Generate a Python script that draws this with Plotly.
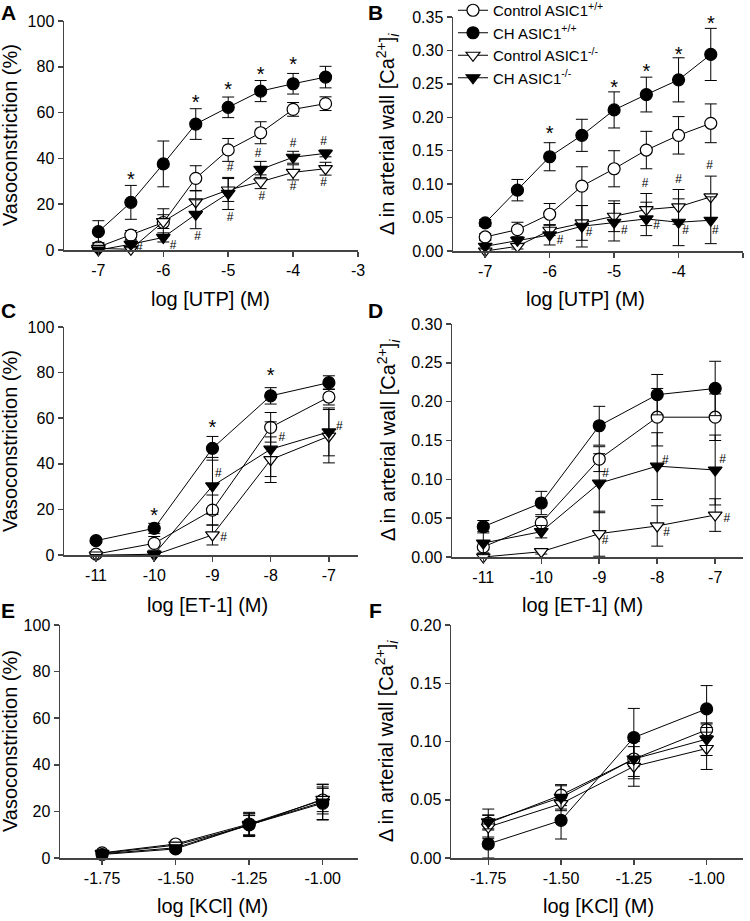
import plotly.graph_objects as go

W, H = 750, 921
FONT = "Liberation Sans, Arial, sans-serif"
AXC = "#444444"

# ---------------- data ----------------
SERIES = ["Control ASIC1<sup>+/+</sup>", "CH ASIC1<sup>+/+</sup>",
          "Control ASIC1<sup>-/-</sup>", "CH ASIC1<sup>-/-</sup>"]

# Panel A: vasoconstriction vs log[UTP]
utp_x = [-7, -6.5, -6, -5.5, -5, -4.5, -4, -3.5]
A_ctrl_wt = [1.3, 6.5, 12.0, 31.3, 43.7, 51.2, 61.4, 63.9]
A_ctrl_wt_err = [1.6, 2.0, 6.0, 5.5, 5.0, 4.8, 3.0, 3.0]
A_ch_wt = [8.0, 20.8, 37.6, 55.0, 62.3, 69.4, 72.6, 75.5]
A_ch_wt_err = [4.8, 7.4, 10.0, 6.7, 4.5, 4.6, 4.5, 4.7]
A_ctrl_ko = [0.7, 0.3, 12.4, 21.0, 26.2, 29.8, 33.9, 35.5]
A_ctrl_ko_err = [1.0, 1.0, 3.0, 5.0, 5.0, 3.0, 3.3, 2.8]
A_ch_ko = [0.0, 2.5, 5.5, 15.6, 24.7, 35.2, 40.5, 42.2]
A_ch_ko_err = [1.0, 1.5, 2.0, 6.3, 7.0, 3.5, 2.6, 1.5]
A_star_x = [-6.5, -5.5, -5, -4.5, -4]
A_star_y = [32.0, 65.5, 71.0, 77.9, 82.0]
A_hash_x = [-6.37, -5.85, -5.47, -4.97, -4.97, -4.54, -4.48, -4.0, -4.0, -3.53, -3.53]
A_hash_y = [0.7, 1.7, 5.5, 13.8, 35.7, 41.9, 23.3, 46.3, 27.4, 47.3, 29.4]

# Panel B: Ca2+ vs log[UTP]
B_ctrl_wt = [0.021, 0.032, 0.055, 0.097, 0.123, 0.151, 0.173, 0.191]
B_ctrl_wt_err = [0.005, 0.011, 0.016, 0.029, 0.027, 0.028, 0.028, 0.029]
B_ch_wt = [0.042, 0.091, 0.141, 0.173, 0.211, 0.234, 0.256, 0.294]
B_ch_wt_err = [0.005, 0.016, 0.021, 0.024, 0.027, 0.026, 0.033, 0.039]
B_ctrl_ko = [0.0, 0.007, 0.031, 0.042, 0.052, 0.062, 0.066, 0.081]
B_ctrl_ko_err = [0.003, 0.004, 0.008, 0.026, 0.023, 0.024, 0.026, 0.031]
B_ch_ko = [0.007, 0.016, 0.024, 0.037, 0.043, 0.048, 0.043, 0.046]
B_ch_ko_err = [0.004, 0.005, 0.015, 0.031, 0.028, 0.025, 0.035, 0.035]
B_star_x = [-6, -5, -4.5, -4, -3.5]
B_star_y = [0.1795, 0.2478, 0.2727, 0.2977, 0.344]
B_hash_x = [-5.84, -5.39, -4.84, -4.34, -3.89, -3.43, -4.52, -4.0, -3.52]
B_hash_y = [0.015, 0.0274, 0.0294, 0.0369, 0.0294, 0.0294, 0.0997, 0.1057, 0.127]

# Panel C: vasoconstriction vs log[ET-1]
et_x = [-11, -10, -9, -8, -7]
C_ctrl_wt = [0.4, 5.1, 19.7, 56.0, 69.3]
C_ctrl_wt_err = [1.0, 3.0, 6.6, 6.5, 3.5]
C_ch_wt = [6.3, 11.7, 46.8, 69.8, 75.6]
C_ch_wt_err = [1.0, 2.2, 5.2, 3.6, 3.0]
C_ctrl_ko = [0.0, 0.0, 8.8, 41.8, 52.1]
C_ctrl_ko_err = [0.5, 0.5, 4.4, 10.0, 11.7]
C_ch_ko = [-0.3, 0.4, 30.3, 46.4, 54.0]
C_ch_ko_err = [0.5, 0.5, 12.5, 12.0, 10.5]
C_star_x = [-10, -9, -8]
C_star_y = [18.5, 56.9, 79.9]
C_hash_x = [-10.87, -9.86, -8.9, -8.81, -7.81, -6.82]
C_hash_y = [-2.9, -2.9, 35.5, 7.3, 51.1, 56.2]

# Panel D: Ca2+ vs log[ET-1]
D_ctrl_wt = [0.013, 0.044, 0.126, 0.180, 0.180]
D_ctrl_wt_err = [0.008, 0.008, 0.016, 0.037, 0.030]
D_ch_wt = [0.039, 0.0695, 0.169, 0.209, 0.217]
D_ch_wt_err = [0.008, 0.015, 0.025, 0.026, 0.035]
D_ctrl_ko = [0.0, 0.0068, 0.030, 0.040, 0.054]
D_ctrl_ko_err = [0.005, 0.003, 0.029, 0.026, 0.021]
D_ch_ko = [0.018, 0.0326, 0.095, 0.117, 0.112]
D_ch_ko_err = [0.015, 0.008, 0.038, 0.043, 0.045]
D_hash_x = [-8.89, -7.86, -6.87, -8.9, -7.84, -6.8]
D_hash_y = [0.1066, 0.1234, 0.1255, 0.0206, 0.0314, 0.0494]

# Panel E: vasoconstriction vs log[KCl]
kcl_x = [-1.75, -1.5, -1.25, -1.0]
E_ctrl_wt = [2.2, 6.0, 14.6, 24.9]
E_ctrl_wt_err = [1.0, 1.2, 5.0, 5.0]
E_ch_wt = [1.5, 3.9, 14.2, 23.5]
E_ch_wt_err = [1.0, 1.0, 5.0, 7.0]
E_ctrl_ko = [2.0, 5.5, 14.0, 25.2]
E_ctrl_ko_err = [1.0, 1.0, 4.2, 6.3]
E_ch_ko = [1.8, 4.4, 14.4, 24.0]
E_ch_ko_err = [1.0, 1.0, 4.5, 7.7]

# Panel F: Ca2+ vs log[KCl]
F_ctrl_wt = [0.030, 0.054, 0.085, 0.110]
F_ctrl_wt_err = [0.012, 0.009, 0.017, 0.005]
F_ch_wt = [0.012, 0.0323, 0.1034, 0.128]
F_ch_wt_err = [0.012, 0.016, 0.025, 0.020]
F_ctrl_ko = [0.0266, 0.0466, 0.0786, 0.094]
F_ctrl_ko_err = [0.010, 0.006, 0.017, 0.018]
F_ch_ko = [0.031, 0.052, 0.085, 0.102]
F_ch_ko_err = [0.006, 0.010, 0.015, 0.014]

# tick values
utp_ticks = [-7, -6, -5, -4, -3]
et_ticks = [-11, -10, -9, -8, -7]
kcl_ticks = [-1.75, -1.5, -1.25, -1.0]
vaso_ticks = [0, 20, 40, 60, 80, 100]
ca35_ticks = [0, 0.05, 0.10, 0.15, 0.20, 0.25, 0.30, 0.35]
ca30_ticks = [0, 0.05, 0.10, 0.15, 0.20, 0.25, 0.30]
ca20_ticks = [0, 0.05, 0.10, 0.15, 0.20]

# ---------------- layout helpers ----------------
def px(x):
    return x / W

def py(y):
    return 1 - y / H

STYLES = [("circle", "white"), ("circle", "black"),
          ("triangle-down", "white"), ("triangle-down", "black")]

panels = [
    dict(n="", letter="A", x=utp_x,
         ys=[(A_ctrl_wt, A_ctrl_wt_err), (A_ch_wt, A_ch_wt_err), (A_ctrl_ko, A_ctrl_ko_err), (A_ch_ko, A_ch_ko_err)],
         box=(64, 358, 21, 250), xr=[-7.53, -3.0], yr=[0, 100], xt=utp_ticks, xfmt="{:g}", yt=vaso_ticks, yfmt="{:g}",
         stars=(A_star_x, A_star_y), hashes=(A_hash_x, A_hash_y),
         xtitle="log [UTP] (M)", xt_pos=(210, 299), ytitle="Vasoconstriction (%)", yt_pos=(10, 135), lpos=(8, 12)),
    dict(n="2", letter="B", x=utp_x,
         ys=[(B_ctrl_wt, B_ctrl_wt_err), (B_ch_wt, B_ch_wt_err), (B_ctrl_ko, B_ctrl_ko_err), (B_ch_ko, B_ch_ko_err)],
         box=(453, 743, 17, 251), xr=[-7.5, -3.0], yr=[0, 0.35], xt=utp_ticks, xfmt="{:g}", yt=ca35_ticks, yfmt="{:.2f}",
         stars=(B_star_x, B_star_y), hashes=(B_hash_x, B_hash_y),
         xtitle="log [UTP] (M)", xt_pos=(585, 299), ytitle=None, yt_pos=(387, 134), lpos=(375, 12)),
    dict(n="3", letter="C", x=et_x,
         ys=[(C_ctrl_wt, C_ctrl_wt_err), (C_ch_wt, C_ch_wt_err), (C_ctrl_ko, C_ctrl_ko_err), (C_ch_ko, C_ch_ko_err)],
         box=(64, 358, 327, 555), xr=[-11.55, -6.5], yr=[0, 100], xt=et_ticks, xfmt="{:g}", yt=vaso_ticks, yfmt="{:g}",
         stars=(C_star_x, C_star_y), hashes=(C_hash_x, C_hash_y),
         xtitle="log [ET-1] (M)", xt_pos=(207, 605), ytitle="Vasoconstriction (%)", yt_pos=(10, 441), lpos=(8, 311)),
    dict(n="4", letter="D", x=et_x,
         ys=[(D_ctrl_wt, D_ctrl_wt_err), (D_ch_wt, D_ch_wt_err), (D_ctrl_ko, D_ctrl_ko_err), (D_ch_ko, D_ch_ko_err)],
         box=(452, 743, 324, 557), xr=[-11.54, -6.52], yr=[0, 0.30], xt=et_ticks, xfmt="{:g}", yt=ca30_ticks, yfmt="{:.2f}",
         stars=None, hashes=(D_hash_x, D_hash_y),
         xtitle="log [ET-1] (M)", xt_pos=(582, 605), ytitle=None, yt_pos=(388, 440), lpos=(375, 311)),
    dict(n="5", letter="E", x=kcl_x,
         ys=[(E_ctrl_wt, E_ctrl_wt_err), (E_ch_wt, E_ch_wt_err), (E_ctrl_ko, E_ctrl_ko_err), (E_ch_ko, E_ch_ko_err)],
         box=(60, 358, 625, 858), xr=[-1.893, -0.88], yr=[0, 100], xt=kcl_ticks, xfmt="{:.2f}", yt=vaso_ticks, yfmt="{:g}",
         stars=None, hashes=None,
         xtitle="log [KCl] (M)", xt_pos=(212, 906), ytitle="Vasoconstriction (%)", yt_pos=(10, 741), lpos=(8, 610)),
    dict(n="6", letter="F", x=kcl_x,
         ys=[(F_ctrl_wt, F_ctrl_wt_err), (F_ch_wt, F_ch_wt_err), (F_ctrl_ko, F_ctrl_ko_err), (F_ch_ko, F_ch_ko_err)],
         box=(451, 743, 625, 858), xr=[-1.878, -0.875], yr=[0, 0.20], xt=kcl_ticks, xfmt="{:.2f}", yt=ca20_ticks, yfmt="{:.2f}",
         stars=None, hashes=None,
         xtitle="log [KCl] (M)", xt_pos=(598, 906), ytitle=None, yt_pos=(386, 741), lpos=(375, 610)),
]

CA_TITLE = "\u0394 in arterial wall [Ca<sup>2+</sup>]<sub><i>i</i></sub>"

fig = go.Figure()
layout = dict(width=W, height=H, margin=dict(l=0, r=0, t=0, b=0, pad=0, autoexpand=False),
              paper_bgcolor="white", plot_bgcolor="white", hovermode=False,
              font=dict(family=FONT, color="black"), annotations=[])

for p in panels:
    n = p["n"]
    xa, ya = "x" + n, "y" + n
    x0, x1, y0, y1 = p["box"]
    for i, (vals, errs) in enumerate(p["ys"]):
        sym, fill = STYLES[i]
        fig.add_trace(go.Scatter(
            x=p["x"], y=vals, xaxis=xa, yaxis=ya, name=SERIES[i],
            mode="lines+markers", cliponaxis=False,
            showlegend=(p["letter"] == "A"), legendgroup=SERIES[i],
            line=dict(color="black", width=1),
            marker=dict(symbol=sym, size=12, color=fill, line=dict(color="black", width=1.2)),
            error_y=dict(type="data", array=errs, visible=True, color="black", thickness=1, width=6),
        ))
    ppu = (y1 - y0) / (p["yr"][1] - p["yr"][0])  # pixels per unit
    if p["stars"]:
        sx, sy = p["stars"]
        fig.add_trace(go.Scatter(
            x=sx, y=[v - 4.0 / ppu for v in sy], xaxis=xa, yaxis=ya, mode="text",
            text=["*"] * len(sx), textfont=dict(size=20, family=FONT, color="black"),
            showlegend=False, cliponaxis=False, hoverinfo="skip"))
    if p["hashes"]:
        hx, hy = p["hashes"]
        fig.add_trace(go.Scatter(
            x=hx, y=hy, xaxis=xa, yaxis=ya, mode="text",
            text=["#"] * len(hx), textfont=dict(size=12, family=FONT, color="black"),
            showlegend=False, cliponaxis=False, hoverinfo="skip"))

    axcommon = dict(showline=True, linecolor=AXC, linewidth=1.5, ticks="outside", ticklen=5,
                    tickwidth=1.5, tickcolor=AXC, showgrid=False, zeroline=False, automargin=False,
                    tickfont=dict(size=16, family=FONT, color="black"))
    layout["xaxis" + n] = dict(domain=[px(x0), px(x1)], range=p["xr"], anchor=ya,
                               tickmode="array", tickvals=p["xt"],
                               ticktext=[p["xfmt"].format(v) for v in p["xt"]], **axcommon)
    layout["yaxis" + n] = dict(domain=[py(y1), py(y0)], range=p["yr"], anchor=xa,
                               tickmode="array", tickvals=p["yt"],
                               ticktext=[p["yfmt"].format(v) for v in p["yt"]], **axcommon)

    # axis titles & panel letters
    tx, ty = p["xt_pos"]
    layout["annotations"].append(dict(text=p["xtitle"], x=px(tx), y=py(ty), xref="paper", yref="paper",
                                      showarrow=False, xanchor="center", yanchor="middle",
                                      font=dict(size=20, family=FONT, color="black")))
    yx, yy = p["yt_pos"]
    layout["annotations"].append(dict(text=p["ytitle"] or CA_TITLE, x=px(yx), y=py(yy), xref="paper", yref="paper",
                                      showarrow=False, xanchor="center", yanchor="middle", textangle=-90,
                                      font=dict(size=20, family=FONT, color="black")))
    lx, ly = p["lpos"]
    layout["annotations"].append(dict(text="<b>" + p["letter"] + "</b>", x=px(lx), y=py(ly), xref="paper", yref="paper",
                                      showarrow=False, xanchor="center", yanchor="middle",
                                      font=dict(size=21, family=FONT, color="black")))

layout["legend"] = dict(x=px(453), y=py(-6), xanchor="left", yanchor="top",
                        font=dict(size=15, family=FONT, color="black"),
                        bgcolor="rgba(0,0,0,0)", borderwidth=0, tracegroupgap=0, traceorder="normal")
layout["showlegend"] = True

fig.update_layout(**layout)
fig.write_html("out.html", config={"displayModeBar": False, "staticPlot": True},
               post_script="document.body.style.margin='0';document.body.style.padding='0';"
                           "document.documentElement.style.overflow='hidden';")
